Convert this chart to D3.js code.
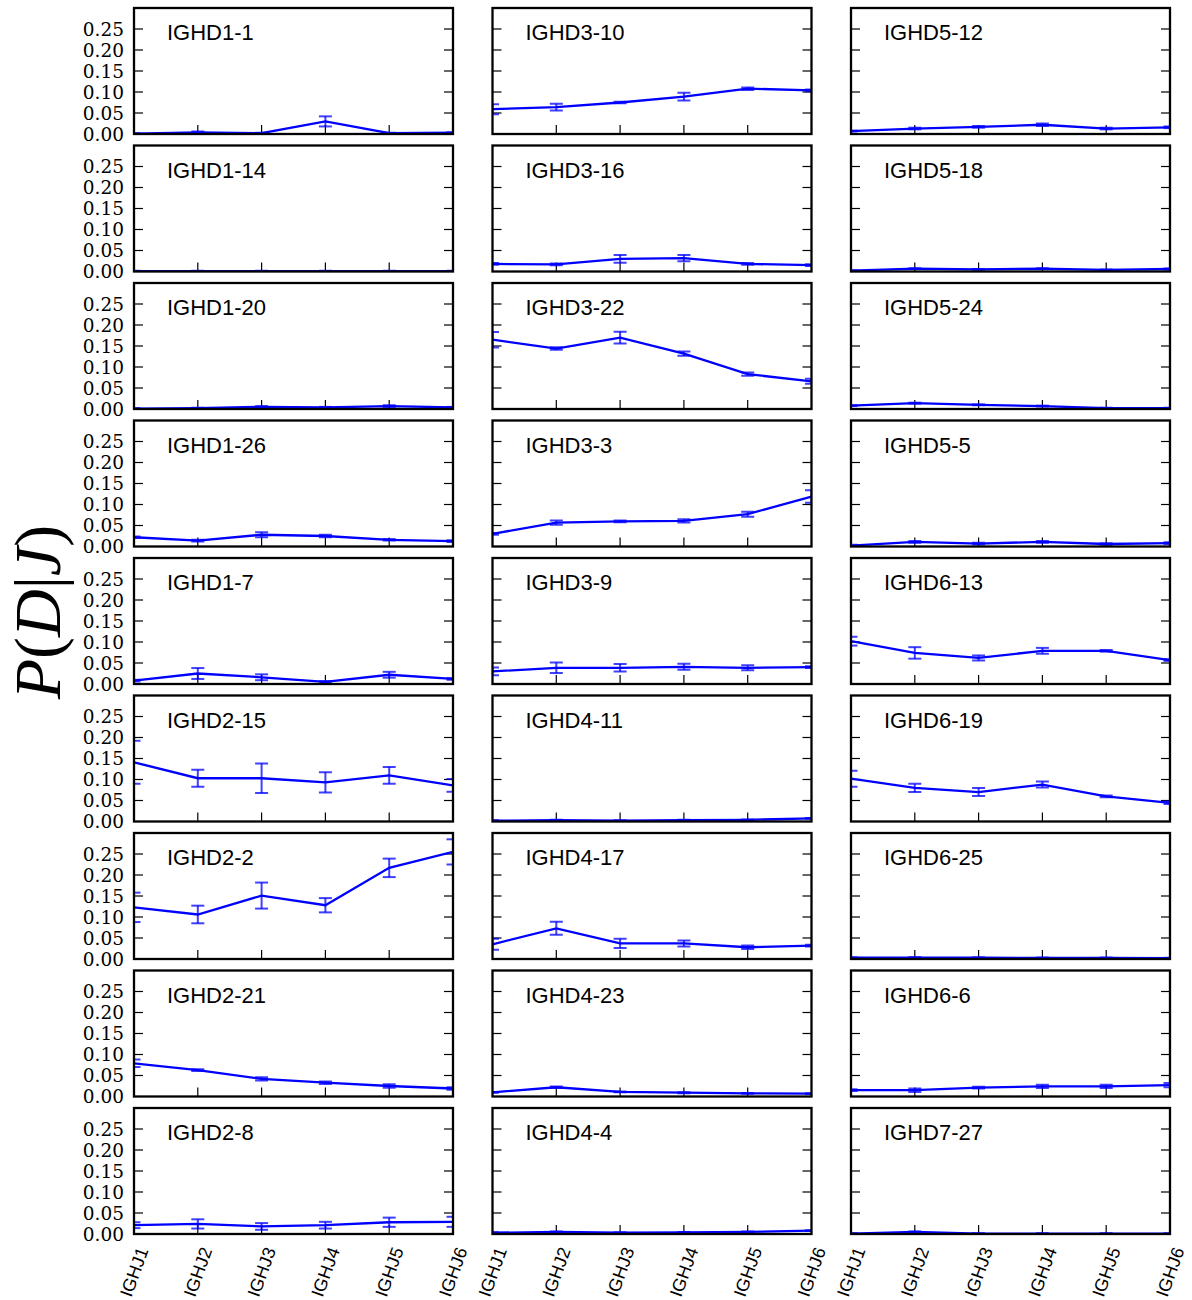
<!DOCTYPE html>
<html lang="en">
<head>
    <meta charset="UTF-8">
    <script src="https://d3js.org/d3.v7.min.js"></script>
    <style>
        body { margin: 0; background: #fff; }
    </style>
</head>
<body>
<div id="chart"></div>
<script>
    // J genes on the x axis
    var jGenes = ["IGHJ1", "IGHJ2", "IGHJ3", "IGHJ4", "IGHJ5", "IGHJ6"];

    // D genes, one panel each (column by column)
    var dGenes = [
        "IGHD1-1", "IGHD1-14", "IGHD1-20", "IGHD1-26", "IGHD1-7", "IGHD2-15", "IGHD2-2", "IGHD2-21", "IGHD2-8",
        "IGHD3-10", "IGHD3-16", "IGHD3-22", "IGHD3-3", "IGHD3-9", "IGHD4-11", "IGHD4-17", "IGHD4-23", "IGHD4-4",
        "IGHD5-12", "IGHD5-18", "IGHD5-24", "IGHD5-5", "IGHD6-13", "IGHD6-19", "IGHD6-25", "IGHD6-6", "IGHD7-27"
    ];

    // P(D|J) mean per panel
    var pMean = [
        [0.001, 0.004, 0.002, 0.030, 0.002, 0.003],
        [0.001, 0.001, 0.001, 0.001, 0.001, 0.001],
        [0.001, 0.002, 0.005, 0.004, 0.007, 0.004],
        [0.022, 0.014, 0.028, 0.025, 0.016, 0.013],
        [0.008, 0.025, 0.016, 0.005, 0.022, 0.012],
        [0.141, 0.103, 0.103, 0.093, 0.110, 0.086],
        [0.123, 0.106, 0.151, 0.128, 0.217, 0.255],
        [0.079, 0.063, 0.042, 0.033, 0.025, 0.019],
        [0.021, 0.024, 0.018, 0.021, 0.028, 0.029],
        [0.059, 0.064, 0.075, 0.089, 0.108, 0.104],
        [0.018, 0.017, 0.030, 0.032, 0.018, 0.015],
        [0.165, 0.144, 0.170, 0.132, 0.083, 0.066],
        [0.030, 0.057, 0.060, 0.061, 0.077, 0.119],
        [0.030, 0.0385, 0.0385, 0.041, 0.0385, 0.040],
        [0.002, 0.003, 0.002, 0.003, 0.004, 0.0075],
        [0.035, 0.073, 0.037, 0.037, 0.028, 0.032],
        [0.010, 0.022, 0.011, 0.009, 0.0075, 0.0067],
        [0.003, 0.005, 0.003, 0.004, 0.005, 0.008],
        [0.007, 0.013, 0.017, 0.022, 0.013, 0.016],
        [0.002, 0.007, 0.005, 0.007, 0.004, 0.006],
        [0.008, 0.014, 0.010, 0.007, 0.002, 0.002],
        [0.002, 0.011, 0.007, 0.011, 0.006, 0.008],
        [0.102, 0.074, 0.062, 0.079, 0.079, 0.057],
        [0.102, 0.080, 0.070, 0.088, 0.060, 0.0445],
        [0.003, 0.0035, 0.003, 0.0025, 0.0025, 0.002],
        [0.015, 0.015, 0.021, 0.024, 0.024, 0.027],
        [0.001, 0.005, 0.001, 0.001, 0.001, 0.001]
    ];

    // error bar half-widths
    var pErr = [
        [0.001, 0.002, 0.001, 0.012, 0.001, 0.001],
        [0.0005, 0.0005, 0.0005, 0.0005, 0.0005, 0.0005],
        [0.001, 0.001, 0.002, 0.001, 0.002, 0.001],
        [0.002, 0.002, 0.006, 0.003, 0.002, 0.002],
        [0.002, 0.013, 0.007, 0.002, 0.007, 0.002],
        [0.051, 0.020, 0.035, 0.024, 0.020, 0.015],
        [0.035, 0.021, 0.031, 0.017, 0.022, 0.030],
        [0.009, 0.002, 0.004, 0.003, 0.004, 0.003],
        [0.007, 0.011, 0.008, 0.008, 0.011, 0.012],
        [0.012, 0.008, 0.002, 0.0095, 0.003, 0.002],
        [0.002, 0.002, 0.009, 0.0075, 0.002, 0.002],
        [0.0185, 0.003, 0.014, 0.005, 0.004, 0.006],
        [0.002, 0.005, 0.002, 0.004, 0.006, 0.015],
        [0.009, 0.0126, 0.009, 0.007, 0.006, 0.002],
        [0.001, 0.001, 0.001, 0.001, 0.001, 0.001],
        [0.013, 0.0155, 0.011, 0.007, 0.004, 0.002],
        [0.001, 0.002, 0.001, 0.001, 0.001, 0.001],
        [0.001, 0.001, 0.001, 0.001, 0.001, 0.001],
        [0.001, 0.002, 0.002, 0.003, 0.002, 0.002],
        [0.001, 0.001, 0.001, 0.001, 0.001, 0.001],
        [0.001, 0.001, 0.001, 0.001, 0.001, 0.001],
        [0.002, 0.002, 0.002, 0.002, 0.002, 0.002],
        [0.0105, 0.0137, 0.006, 0.007, 0.002, 0.002],
        [0.019, 0.010, 0.0095, 0.007, 0.002, 0.003],
        [0.001, 0.001, 0.001, 0.001, 0.001, 0.001],
        [0.002, 0.004, 0.002, 0.004, 0.004, 0.005],
        [0.001, 0.001, 0.001, 0.001, 0.001, 0.001]
    ];

    var yTicks = [0, 0.05, 0.10, 0.15, 0.20, 0.25];

    var W = 1192, H = 1300;
    var nRows = 9, nCols = 3;
    var left0 = 134, top0 = 8, colStep = 358.5, rowStep = 137.5;
    var pw = 319, ph = 126;

    var svg = d3.select("#chart").append("svg")
        .attr("width", W)
        .attr("height", H);

    var x = d3.scalePoint().domain(jGenes).range([0, pw]);
    var y = d3.scaleLinear().domain([0, 0.3]).range([ph, 0]);

    var line = d3.line()
        .x(function(d, i) { return x(jGenes[i]); })
        .y(function(d) { return y(d); });

    var defs = svg.append("defs");
    defs.append("clipPath").attr("id", "clip")
        .append("rect").attr("width", pw).attr("height", ph);

    dGenes.forEach(function(name, k) {
        var col = Math.floor(k / nRows), row = k % nRows;
        var g = svg.append("g")
            .attr("transform", "translate(" + (left0 + col * colStep) + "," + (top0 + row * rowStep) + ")");

        // inward ticks, left and right
        yTicks.slice(1).forEach(function(t) {
            g.append("line").attr("x1", 0).attr("x2", 9).attr("y1", y(t)).attr("y2", y(t))
                .attr("stroke", "#000").attr("stroke-width", 1.2);
            g.append("line").attr("x1", pw - 9).attr("x2", pw).attr("y1", y(t)).attr("y2", y(t))
                .attr("stroke", "#000").attr("stroke-width", 1.2);
        });
        jGenes.slice(1, -1).forEach(function(j) {
            g.append("line").attr("x1", x(j)).attr("x2", x(j)).attr("y1", ph).attr("y2", ph - 9)
                .attr("stroke", "#000").attr("stroke-width", 1.2);
        });

        var plot = g.append("g").attr("clip-path", "url(#clip)");
        var means = pMean[k], errs = pErr[k];

        // error bars
        var eb = plot.append("g").attr("stroke", "#0000ff").attr("stroke-opacity", 0.75).attr("stroke-width", 2);
        means.forEach(function(m, i) {
            var cx = x(jGenes[i]), lo = y(m - errs[i]), hi = y(m + errs[i]);
            eb.append("line").attr("x1", cx).attr("x2", cx).attr("y1", lo).attr("y2", hi);
            eb.append("line").attr("x1", cx - 6.5).attr("x2", cx + 6.5).attr("y1", lo).attr("y2", lo);
            eb.append("line").attr("x1", cx - 6.5).attr("x2", cx + 6.5).attr("y1", hi).attr("y2", hi);
        });

        plot.append("path")
            .datum(means)
            .attr("d", line)
            .attr("fill", "none")
            .attr("stroke", "#0000ff")
            .attr("stroke-width", 2.3);

        // frame
        g.append("rect").attr("width", pw).attr("height", ph)
            .attr("fill", "none").attr("stroke", "#000").attr("stroke-width", 2.3);

        g.append("text")
            .attr("x", 33).attr("y", 32)
            .attr("font-family", "Liberation Sans, Arial, sans-serif")
            .attr("font-size", 22)
            .text(name);

        if (col === 0) {
            yTicks.forEach(function(t) {
                g.append("text")
                    .attr("x", -10).attr("y", y(t))
                    .attr("dy", "0.36em")
                    .attr("text-anchor", "end")
                    .attr("font-family", "DejaVu Serif, serif")
                    .attr("font-size", 18.5)
                    .text(d3.format(".2f")(t));
            });
        }

        if (row === nRows - 1) {
            jGenes.forEach(function(j) {
                g.append("text")
                    .attr("transform", "translate(" + x(j) + "," + (ph + 38) + ") rotate(-70)")
                    .attr("text-anchor", "middle")
                    .attr("dy", "0.35em")
                    .attr("font-family", "Liberation Sans, Arial, sans-serif")
                    .attr("font-size", 18)
                    .text(j);
            });
        }
    });

    // y axis label P(D|J)
    var ylab = svg.append("text")
        .attr("transform", "translate(60,612) rotate(-90)")
        .attr("text-anchor", "middle")
        .attr("font-family", "Liberation Serif, serif")
        .attr("font-size", 66);
    ylab.append("tspan").attr("font-style", "italic").text("P");
    ylab.append("tspan").text("(");
    ylab.append("tspan").attr("font-style", "italic").text("D");
    ylab.append("tspan").text("|");
    ylab.append("tspan").attr("font-style", "italic").text("J");
    ylab.append("tspan").text(")");
</script>
</body>
</html>
